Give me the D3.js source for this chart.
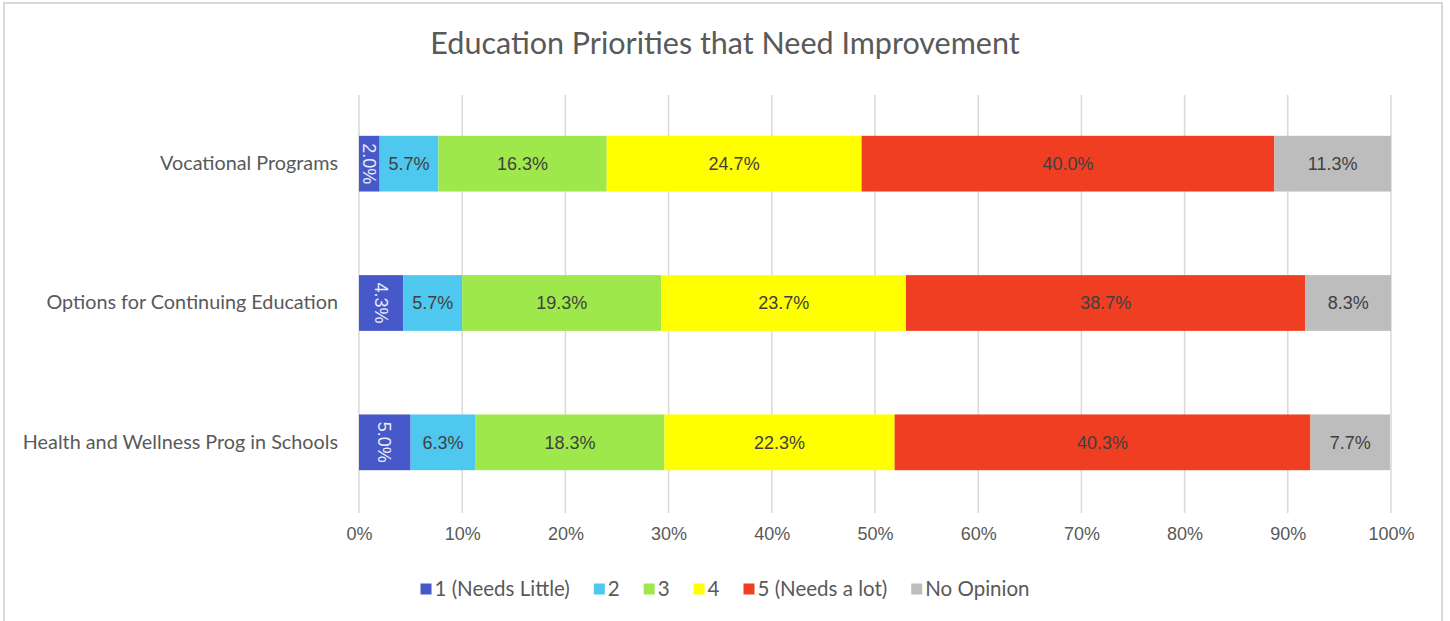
<!DOCTYPE html>
<html><head><meta charset="utf-8">
<script src="https://cdn.jsdelivr.net/npm/d3@7"></script>
<style>
html,body{margin:0;padding:0;background:#fff;}
svg{display:block;}
</style></head>
<body>
<svg id="chart" width="1450" height="621"></svg>
<script>
const categories = ["Vocational Programs", "Options for Continuing Education", "Health and Wellness Prog in Schools"];
const seriesNames = ["1 (Needs Little)", "2", "3", "4", "5 (Needs a lot)", "No Opinion"];
const seriesColors = ["#4759C8", "#4FC8F0", "#9FE84C", "#FFFF00", "#EF3E22", "#BDBDBD"];
const s1 = [2.0, 4.3, 5.0];
const s2 = [5.7, 5.7, 6.3];
const s3 = [16.3, 19.3, 18.3];
const s4 = [24.7, 23.7, 22.3];
const s5 = [40.0, 38.7, 40.3];
const sNo = [11.3, 8.3, 7.7];
const xTicks = [0, 10, 20, 30, 40, 50, 60, 70, 80, 90, 100];
const title = "Education Priorities that Need Improvement";

const series = [s1, s2, s3, s4, s5, sNo];
const svg = d3.select("#chart");

// border
svg.append("rect").attr("x", 4).attr("y", 3).attr("width", 1438).attr("height", 630)
  .attr("fill", "#fff").attr("stroke", "#d9d9d9").attr("stroke-width", 2);

const x = d3.scaleLinear().domain([0, 100]).range([359, 1391]);
const y = d3.scaleBand().domain(categories).range([94, 512]).paddingInner(0.6).paddingOuter(0.3);

// title
svg.append("text").attr("x", 725).attr("y", 54).attr("text-anchor", "middle")
  .attr("font-family", "Lato, 'Open Sans', sans-serif").attr("font-size", 30.5).attr("font-weight", 400)
  .attr("fill", "#595959").text(title);

// gridlines
svg.append("g").selectAll("line").data(xTicks).join("line")
  .attr("x1", d => x(d)).attr("x2", d => x(d)).attr("y1", 95).attr("y2", 513)
  .attr("stroke", "#d9d9d9").attr("stroke-width", 1.5);

// x axis labels
const xAxis = d3.axisBottom(x).tickValues(xTicks).tickFormat(d => d + "%").tickSize(0).tickPadding(0);
const gx = svg.append("g").attr("transform", "translate(0,527)").call(xAxis);
gx.select(".domain").remove();
gx.selectAll("text").attr("font-family", "'Liberation Sans', Arial, sans-serif").attr("font-size", 18).attr("fill", "#595959");

// y axis labels
const yAxis = d3.axisLeft(y).tickSize(0).tickPadding(21);
const gy = svg.append("g").attr("transform", "translate(359,0)").call(yAxis);
gy.select(".domain").remove();
gy.selectAll("text").attr("font-family", "Lato, sans-serif").attr("font-size", 19.8).attr("fill", "#595959");

// stacked bars
categories.forEach((cat, ci) => {
  let cum = 0;
  series.forEach((s, si) => {
    const v = s[ci];
    const x0 = x(cum), x1 = x(cum + v);
    cum += v;
    svg.append("rect").attr("x", x0).attr("y", y(cat)).attr("width", x1 - x0).attr("height", y.bandwidth())
      .attr("fill", seriesColors[si]);
    const cx = (x0 + x1) / 2, cy = y(cat) + y.bandwidth() / 2;
    const label = v.toFixed(1) + "%";
    if (si === 0) {
      svg.append("text").attr("transform", `translate(${cx},${cy}) rotate(90)`)
        .attr("text-anchor", "middle").attr("dy", "0.35em")
        .attr("font-family", "'Liberation Sans', Arial, sans-serif").attr("font-size", 18)
        .attr("fill", "#e8ecf8").text(label);
    } else {
      svg.append("text").attr("x", cx).attr("y", cy).attr("text-anchor", "middle").attr("dy", "0.35em")
        .attr("font-family", "'Liberation Sans', Arial, sans-serif").attr("font-size", 18)
        .attr("fill", "#404040").text(label);
    }
  });
});

// legend
const lg = svg.append("g");
let lx = 0;
const gap = 24;
seriesNames.forEach((n, i) => {
  const g = lg.append("g");
  g.append("rect").attr("x", 0).attr("y", -5.5).attr("width", 11).attr("height", 11).attr("fill", seriesColors[i]);
  const t = g.append("text").attr("x", 14).attr("y", 0).attr("dy", "0.35em")
    .attr("font-family", "Lato, sans-serif").attr("font-size", 20.5).attr("fill", "#595959").text(n);
  const w = 14 + t.node().getComputedTextLength();
  g.attr("transform", `translate(${lx},0)`);
  lx += w + gap;
});
const totalW = lx - gap;
lg.attr("transform", `translate(${725 - totalW / 2},589)`);
</script>
</body></html>
